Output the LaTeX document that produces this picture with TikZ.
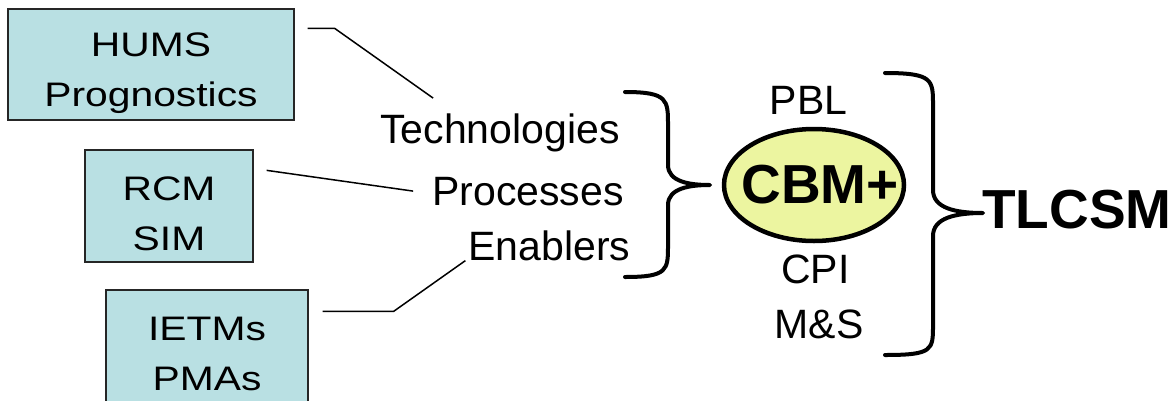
\documentclass[tikz,border=0pt]{standalone}
\usepackage{fontspec}
\setmainfont{Liberation Sans}
\newfontfamily\boxfont{Liberation Sans}[FakeStretch=1.2]
\usetikzlibrary{shapes.geometric}

\definecolor{boxcyan}{RGB}{185,224,227}
\definecolor{ovalgreen}{RGB}{236,245,160}

\begin{document}
\begin{tikzpicture}[x = 1pt, y = -1pt,
    box/.style = {shape = rectangle, draw = black!85, line width = 1.3pt, fill = boxcyan,
                  align = center, inner sep = 0pt,
                  font = \boxfont\fontsize{34}{50}\selectfont},
    word/.style = {inner sep = 0pt, anchor = base, font = \fontsize{41}{48}\selectfont},
    link/.style = {line width = 1.5pt},
    brace/.style = {line width = 4pt, line cap = round, line join = round}]

        \useasboundingbox (0, 0) rectangle (1175, 400);

        % boxes on the left
        \node[box, minimum width = 286, minimum height = 111, text height = 91, text depth = 8]
          at (151, 64.5) (hums) {HUMS\\Prognostics};
        \node[box, minimum width = 168, minimum height = 112, text height = 96, text depth = 8]
          at (169, 206) (rcm) {RCM\\SIM};
        \node[box, minimum width = 202, minimum height = 112, text height = 96, text depth = 8]
          at (207, 346) (ietms) {IETMs\\PMAs};

        % middle words
        \node[word] at (500, 143) (tech) {Technologies};
        \node[word] at (528, 205) (proc) {Processes};
        \node[word] at (549.5, 260) (enab) {Enablers};

        \draw[link]
          ([shift = {(13, 20)}]hums.north east) -- ++(27, 0) -- ([shift = {(53, -15)}]tech.north west)
          ([shift = {(13, 21)}]rcm.north east) -- ([xshift = -19]proc.west)
          ([shift = {(14, 22)}]ietms.north east) -- ++(71, 0) -- ([xshift = -3]enab.south west)
        ;

        % ------------------------------------------------------------------------
        % CBM+
        \draw[brace]
          (625, 92) .. controls (668, 92) and (668, 100) .. (668, 125) -- (668, 165)
          .. controls (668, 182) and (690, 185) .. (710, 185)
          .. controls (690, 185) and (668, 188) .. (668, 205) -- (668, 245)
          .. controls (668, 270) and (668, 277) .. (625, 277);

        \node[shape = ellipse, draw = black, line width = 4.5pt, fill = ovalgreen,
              minimum width = 180, minimum height = 112, inner sep = 0pt,
              font = \bfseries\fontsize{55}{60}\selectfont] at (814, 185) (cbm) {\makebox[0pt]{\hspace{12pt}CBM+}};

        \node[word] at (808.5, 114) (pbl) {PBL};
        \node[word] at (815.5, 283) (cpi) {CPI};
        \node[word] at (819, 338) (ms) {M\&S};

        % ------------------------------------------------------------------------
        % TLCSM
        \draw[brace]
          (885, 73) .. controls (933, 73) and (933, 80) .. (933, 105) -- (933, 190)
          .. controls (933, 208) and (955, 213) .. (983, 213)
          .. controls (955, 213) and (933, 218) .. (933, 236) -- (933, 325)
          .. controls (933, 350) and (933, 355) .. (885, 355);

        \node[inner sep = 0pt, anchor = base west, font = \bfseries\fontsize{55}{60}\selectfont]
          at (982, 228) (tlcsm) {TLCSM};
      \end{tikzpicture}
\end{document}
